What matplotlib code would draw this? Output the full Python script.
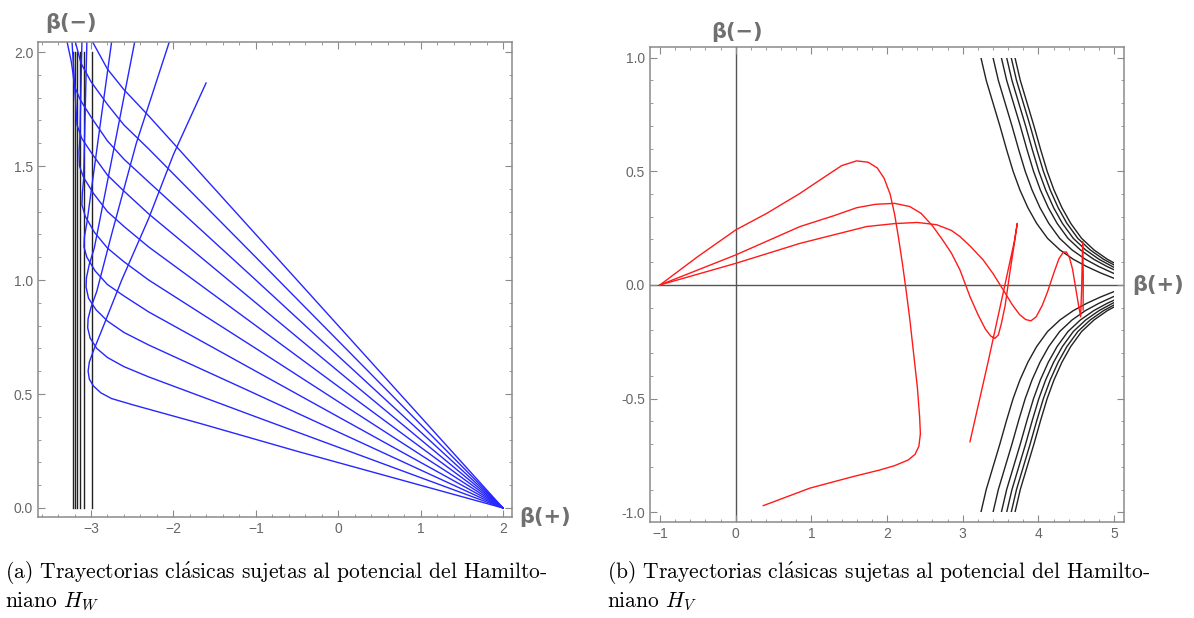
import matplotlib.pyplot as plt
import numpy as np
from matplotlib.ticker import MultipleLocator, FixedLocator, FixedFormatter
from matplotlib.patches import Rectangle

# ---- datos (a): paredes y trayectorias H_W ----
walls_x = [-3.22, -3.194, -3.166, -3.133, -3.081, -2.991]
walls_y = [0.0, 2.0]

t1_x = [2, -0.48, -1.677, -2.487, -2.75, -2.88, -2.97, -3.02, -3.035, -3.02, -2.97, -2.88, -2.627, -2.30, -2.00, -1.604]
t1_y = [0, 0.247, 0.371, 0.452, 0.48, 0.505, 0.535, 0.565, 0.60, 0.64, 0.69, 0.77, 1.0, 1.27, 1.55, 1.864]
t2_x = [2, -1, -2.3, -2.6, -2.8, -2.93, -3.01, -3.04, -3.035, -3.0, -2.93, -2.75, -2.45, -2.05]
t2_y = [0, 0.40, 0.575, 0.62, 0.66, 0.70, 0.745, 0.79, 0.83, 0.88, 0.95, 1.20, 1.60, 2.044]
t3_x = [2, -1, -2.3, -2.6, -2.8, -2.94, -3.03, -3.06, -3.055, -3.02, -2.96, -2.72, -2.47]
t3_y = [0, 0.50, 0.715, 0.77, 0.82, 0.87, 0.92, 0.97, 1.01, 1.07, 1.14, 1.58, 2.044]
t4_x = [2, -1, -2.3, -2.6, -2.8, -2.95, -3.05, -3.085, -3.08, -3.05, -2.90, -2.75]
t4_y = [0, 0.60, 0.86, 0.93, 0.98, 1.04, 1.10, 1.145, 1.19, 1.25, 1.65, 2.044]
t5_x = [2, -1, -2.3, -2.6, -2.8, -2.96, -3.07, -3.11, -3.105, -3.09, -3.05]
t5_y = [0, 0.70, 1.0, 1.08, 1.14, 1.21, 1.28, 1.33, 1.38, 1.44, 2.044]
t6_x = [2, -1, -2.3, -2.6, -2.8, -2.97, -3.09, -3.14, -3.145, -3.135, -3.11]
t6_y = [0, 0.80, 1.145, 1.235, 1.30, 1.38, 1.45, 1.50, 1.56, 1.62, 2.044]
t7_x = [2, -1, -2.3, -2.6, -2.8, -2.98, -3.11, -3.17, -3.18, -3.19, -3.23]
t7_y = [0, 0.90, 1.29, 1.39, 1.46, 1.55, 1.62, 1.68, 1.74, 1.80, 2.044]
t8_x = [2, -1, -2.3, -2.6, -2.8, -2.99, -3.13, -3.20, -3.22, -3.24, -3.29]
t8_y = [0, 1.0, 1.43, 1.53, 1.61, 1.71, 1.79, 1.85, 1.91, 1.96, 2.044]
t9_x = [2, -1, -2.3, -2.6, -2.8, -3.0, -3.12, -3.19]
t9_y = [0, 1.10, 1.575, 1.68, 1.77, 1.87, 1.95, 2.044]
t10_x = [2, -1, -2.3, -2.6, -2.8, -2.98]
t10_y = [0, 1.2, 1.72, 1.835, 1.925, 2.044]
tray_W = [(t1_x, t1_y), (t2_x, t2_y), (t3_x, t3_y), (t4_x, t4_y), (t5_x, t5_y),
          (t6_x, t6_y), (t7_x, t7_y), (t8_x, t8_y), (t9_x, t9_y), (t10_x, t10_y)]

# ---- datos (b): curvas de nivel y trayectorias H_V ----
hyp_x = [3.24, 3.31, 3.40, 3.49, 3.58, 3.665, 3.755, 3.86, 3.976, 4.12, 4.284, 4.46, 4.637, 4.82, 5.0, 5.5]
hyp_y = [1.0, 0.90, 0.80, 0.70, 0.594, 0.50, 0.418, 0.34, 0.271, 0.205, 0.154, 0.113, 0.081, 0.053, 0.029, 0.0]
hyp_shift = [0.0, 0.16, 0.27, 0.34, 0.40, 0.45]

r1_x = [-1, -0.5, 0, 0.41, 0.85, 1.15, 1.4, 1.598, 1.75, 1.87, 1.96, 2.04, 2.1, 2.15, 2.2, 2.25, 2.3,
        2.35, 2.4, 2.43, 2.44, 2.42, 2.37, 2.28, 2.1, 1.906, 1.553, 0.98, 0.365]
r1_y = [0, 0.125, 0.242, 0.315, 0.403, 0.47, 0.525, 0.546, 0.54, 0.515, 0.47, 0.40, 0.31, 0.21, 0.10, -0.02,
        -0.15, -0.30, -0.45, -0.58, -0.655, -0.71, -0.745, -0.77, -0.795, -0.814, -0.843, -0.894, -0.971]
r2_x = [-1, 0, 0.85, 1.3, 1.6, 1.85, 2.1, 2.3, 2.45, 2.6, 2.73, 2.85, 2.963, 3.095, 3.2, 3.3, 3.37, 3.425,
        3.47, 3.51, 3.56, 3.62, 3.68, 3.72, 3.68, 3.55, 3.337, 3.095]
r2_y = [0, 0.132, 0.257, 0.305, 0.34, 0.355, 0.359, 0.345, 0.315, 0.26, 0.20, 0.14, 0.066, -0.051, -0.13,
        -0.195, -0.225, -0.235, -0.22, -0.17, -0.09, 0.05, 0.18, 0.271, 0.19, -0.01, -0.335, -0.69]
r3_x = [-1, 0, 0.85, 1.73, 2.1, 2.4, 2.655, 2.85, 2.963, 3.1, 3.27, 3.4, 3.535, 3.65, 3.75, 3.83, 3.9,
        3.97, 4.05, 4.12, 4.2, 4.27, 4.33, 4.37, 4.41, 4.45, 4.5, 4.535, 4.557, 4.57, 4.584, 4.592, 4.59]
r3_y = [0, 0.095, 0.183, 0.257, 0.27, 0.275, 0.265, 0.24, 0.213, 0.17, 0.11, 0.05, -0.022, -0.085, -0.13,
        -0.152, -0.158, -0.14, -0.09, -0.03, 0.05, 0.115, 0.145, 0.145, 0.12, 0.07, -0.03, -0.10, -0.14,
        -0.02, 0.19, 0.04, -0.11]
tray_V = [(r1_x, r1_y), (r2_x, r2_y), (r3_x, r3_y)]

W, H = 1194, 618
fig = plt.figure(figsize=(W / 100, H / 100), dpi=100)

lab_col = "#666666"
frame_col = "#8a8a8a"


def marco(ax):
    for s in ax.spines.values():
        s.set_color(frame_col)
        s.set_linewidth(1.1)
    ax.tick_params(which="both", direction="in", top=True, right=True,
                   color=frame_col, labelcolor=lab_col, labelsize=10)
    ax.tick_params(which="major", length=5)
    ax.tick_params(which="minor", length=2.5)
    for t in ax.get_xticklabels() + ax.get_yticklabels():
        t.set_fontfamily("Liberation Sans")


# (a)
ax1 = fig.add_axes([38 / W, 1 - 517 / H, 474 / W, 475 / H])
for wx in walls_x:
    ax1.plot([wx, wx], walls_y, color="#222222", lw=1.0)
for tx, ty in tray_W:
    ax1.plot(tx, ty, color=(0.15, 0.15, 1.0), lw=1.0)
ax1.set_xlim(-3.643, 2.109)
ax1.set_ylim(-0.0395, 2.044)
ax1.xaxis.set_major_locator(FixedLocator([-3, -2, -1, 0, 1, 2]))
ax1.xaxis.set_major_formatter(FixedFormatter(["\u22123", "\u22122", "\u22121", "0", "1", "2"]))
ax1.xaxis.set_minor_locator(MultipleLocator(0.2))
ax1.yaxis.set_major_locator(FixedLocator([0, 0.5, 1.0, 1.5, 2.0]))
ax1.yaxis.set_major_formatter(FixedFormatter(["0.0", "0.5", "1.0", "1.5", "2.0"]))
ax1.yaxis.set_minor_locator(MultipleLocator(0.1))
marco(ax1)

# (b)
ax2 = fig.add_axes([650 / W, 1 - 522 / H, 474 / W, 475 / H])
ax2.axhline(0, color="#555555", lw=1.0, zorder=1)
ax2.axvline(0, color="#555555", lw=1.0, zorder=1)
clip = Rectangle((-2, -1.0), 7.0, 2.0, transform=ax2.transData)
for sh in hyp_shift:
    xs = np.array(hyp_x) + sh
    ys = np.array(hyp_y)
    for sg in (1, -1):
        ln, = ax2.plot(xs, sg * ys, color="#222222", lw=1.0, zorder=2)
        ln.set_clip_path(clip)
for tx, ty in tray_V:
    ax2.plot(tx, ty, color=(1.0, 0.1, 0.1), lw=1.0, zorder=3)
ax2.set_xlim(-1.132, 5.13)
ax2.set_ylim(-1.043, 1.047)
ax2.xaxis.set_major_locator(FixedLocator([-1, 0, 1, 2, 3, 4, 5]))
ax2.xaxis.set_major_formatter(FixedFormatter(["\u22121", "0", "1", "2", "3", "4", "5"]))
ax2.xaxis.set_minor_locator(MultipleLocator(0.2))
ax2.yaxis.set_major_locator(FixedLocator([-1.0, -0.5, 0, 0.5, 1.0]))
ax2.yaxis.set_major_formatter(FixedFormatter(["-1.0", "-0.5", "0.0", "0.5", "1.0"]))
ax2.yaxis.set_minor_locator(MultipleLocator(0.1))
marco(ax2)

# etiquetas de ejes
for px, py, s in [(71, 23, "\u03b2(\u2212)"), (545, 517, "\u03b2(+)"),
                  (737, 32, "\u03b2(\u2212)"), (1158, 285, "\u03b2(+)")]:
    fig.text(px / W, 1 - py / H, s, ha="center", va="center", fontsize=15,
             fontweight="bold", color="#707070", fontfamily="DejaVu Sans")

# pies de figura
plt.rcParams["mathtext.fontset"] = "cm"
cap_font = ["cmr10", "DejaVu Serif"]
linea1 = "Trayectorias cl$\\acute{\\mathrm{a}}$sicas sujetas al potencial del Hamilto-"
fig.text(5 / W, 1 - 572 / H, "(a) " + linea1, fontsize=15.5, va="center", family=cap_font)
fig.text(5 / W, 1 - 601 / H, "niano $H_W$", fontsize=15.5, va="center", family=cap_font)
fig.text(607 / W, 1 - 572 / H, "(b) " + linea1, fontsize=15.5, va="center", family=cap_font)
fig.text(607 / W, 1 - 601 / H, "niano $H_V$", fontsize=15.5, va="center", family=cap_font)

fig.savefig("out.png", dpi=100)
